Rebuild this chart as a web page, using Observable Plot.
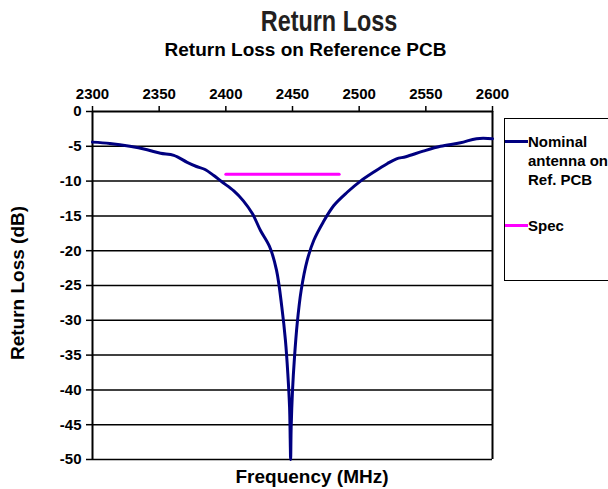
<!DOCTYPE html>
<html>
<head>
<meta charset="utf-8">
<script src="https://cdn.jsdelivr.net/npm/d3@7"></script>
<script src="https://cdn.jsdelivr.net/npm/@observablehq/plot@0.6"></script>
<style>
  html, body { margin: 0; padding: 0; background: #fff; }
  #wrap { position: relative; width: 608px; height: 489px; overflow: hidden; font-family: "Liberation Sans", Arial, sans-serif; color: #000; }
  .abs { position: absolute; white-space: nowrap; }
  #title { left: 0; width: 658px; top: 4px; text-align: center; font-family: "Liberation Sans", sans-serif; font-weight: bold; font-size: 30px; color: #231f20; line-height: 34px; transform: scaleX(0.78); transform-origin: 329px 0; }
  #subtitle { left: 0; width: 611px; top: 38px; text-align: center; font-weight: bold; font-size: 19px; line-height: 24px; }
  #xtitle { left: 0; width: 624px; top: 465px; text-align: center; font-weight: bold; font-size: 19px; line-height: 24px; }
  #ytitle { left: 18px; top: 283px; transform: translate(-50%, -50%) rotate(-90deg); font-weight: bold; font-size: 19px; line-height: 24px; }
  #legend { left: 504px; top: 118px; width: 120px; height: 163px; border: 1.5px solid #000; box-sizing: border-box; }
  .lg-item { position: absolute; left: 0; font-weight: bold; font-size: 15px; line-height: 19px; }
  .lg-swatch { position: absolute; left: 0; width: 23px; height: 3px; }
  .lg-text { position: absolute; left: 23px; white-space: nowrap; }
</style>
</head>
<body>
<div id="wrap">
  <div id="chart" class="abs" style="left:0;top:0"></div>
  <div id="title" class="abs">Return Loss</div>
  <div id="subtitle" class="abs">Return Loss on Reference PCB</div>
  <div id="xtitle" class="abs">Frequency (MHz)</div>
  <div id="ytitle" class="abs">Return Loss (dB)</div>
  <div id="legend" class="abs"></div>
</div>
<script>
// ---- data ----
const freqMHz = [2300, 2313, 2328, 2341, 2351, 2361, 2371, 2378, 2384, 2391, 2397, 2406, 2413, 2420, 2426, 2433, 2438, 2442, 2444.7, 2446.5, 2447.8, 2448.3, 2448.6, 2449, 2450, 2451.5, 2453.5, 2456.5, 2461, 2466, 2473, 2481, 2491, 2501, 2511, 2521, 2528, 2535, 2548, 2561, 2576, 2588, 2600];
const returnLossDb = [-4.4, -4.6, -5.0, -5.5, -6.0, -6.3, -7.3, -7.9, -8.3, -9.2, -10.1, -11.4, -12.8, -14.7, -17.1, -19.5, -22.8, -28.1, -32.9, -37.7, -42.5, -47.3, -50, -45.4, -40.1, -35.3, -30.5, -25.7, -21.4, -18.5, -15.9, -13.5, -11.6, -10.0, -8.7, -7.5, -6.8, -6.5, -5.7, -5.0, -4.5, -3.9, -3.9];
const specFreq = [2400, 2485];
const specDb = [-9, -9];
const xTicks = [2300, 2350, 2400, 2450, 2500, 2550, 2600];
const yTicks = [0, -5, -10, -15, -20, -25, -30, -35, -40, -45, -50];
const seriesColors = ["#000080", "#FF00FF"];

const curve = freqMHz.map((f, i) => ({f, db: returnLossDb[i]}));
const spec = specFreq.map((f, i) => ({f, db: specDb[i]}));

const chart = Plot.plot({
  width: 608,
  height: 489,
  marginLeft: 92,
  marginRight: 116,
  marginTop: 111,
  marginBottom: 30,
  x: {domain: [2300, 2600]},
  y: {domain: [-50, 0]},
  style: {fontFamily: "'Liberation Sans', Arial, sans-serif", fontWeight: "bold", fontSize: "15px", color: "#000", background: "transparent", overflow: "visible"},
  marks: [
    Plot.ruleY(yTicks.filter(d => d !== 0), {stroke: "#000", strokeWidth: 1.5}),
    Plot.ruleY([0], {stroke: "#000", strokeWidth: 2}),
    Plot.ruleX([xTicks[0]], {stroke: "#000", strokeWidth: 2}),
    Plot.ruleX([xTicks[xTicks.length - 1]], {stroke: "#000", strokeWidth: 2}),
    Plot.axisX({anchor: "top", ticks: xTicks, tickSize: 6, tickPadding: 7, tickFormat: d => String(d), label: null, strokeWidth: 1.5}),
    Plot.axisY({anchor: "left", ticks: yTicks, tickSize: 6, tickPadding: 5, tickFormat: d => String(d), label: null, strokeWidth: 1.5}),
    Plot.line(spec, {x: "f", y: "db", stroke: seriesColors[1], strokeWidth: 3}),
    Plot.line(curve, {x: "f", y: "db", stroke: seriesColors[0], strokeWidth: 3, curve: "catmull-rom"})
  ]
});
document.getElementById("chart").appendChild(chart);

// legend
const legend = document.getElementById("legend");
const items = [
  {lines: ["Nominal", "antenna on", "Ref. PCB"], top: 13, color: seriesColors[0]},
  {lines: ["Spec"], top: 97, color: seriesColors[1]}
];
items.forEach(it => {
  const d = document.createElement("div");
  d.className = "lg-item";
  d.style.top = it.top + "px";
  const sw = document.createElement("div");
  sw.className = "lg-swatch";
  sw.style.background = it.color;
  sw.style.top = "8px";
  const tx = document.createElement("div");
  tx.className = "lg-text";
  tx.innerHTML = it.lines.join("<br>");
  d.appendChild(sw); d.appendChild(tx);
  legend.appendChild(d);
});
</script>
</body>
</html>
